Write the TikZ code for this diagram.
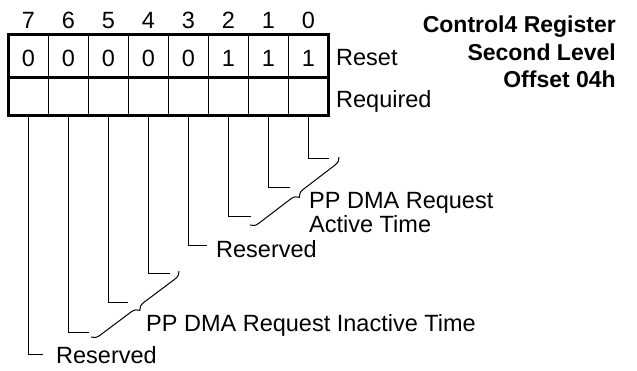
\documentclass[tikz,border=0pt]{standalone}
\usepackage{fontspec}
\setmainfont{Liberation Sans}
\usetikzlibrary{decorations.pathreplacing}
\begin{document}
\begin{tikzpicture}[x=1pt,y=-1pt,
  txt/.style={inner sep=0pt, font=\fontsize{23.5}{28}\selectfont},
  ttl/.style={inner sep=0pt, anchor=base east, font=\fontsize{23}{27.6}\selectfont\bfseries},
  lead/.style={line width=1pt},
  thin/.style={line width=1pt},
  thick/.style={line width=3pt},
  brc/.style={line width=1pt, decorate, decoration={brace, amplitude=8pt}}]
\useasboundingbox (0,0) rectangle (637,371);
% register grid
\foreach \k in {1,...,7} { \draw[thin] ({8.5+40*\k},34.5) -- ({8.5+40*\k},116); }
\draw[thick] (8.5,78) -- (328.5,78);
\draw[thick] (8.5,34.5) rectangle (328.5,116);
% bit numbers, values, leader start points
\foreach \v [count=\i from 0] in {0,0,0,0,0,1,1,1} {
  \pgfmathtruncatemacro\b{7-\i}
  \node[txt, anchor=base] (n\b) at ({28.5+40*\i},29) {\b};
  \node[txt, anchor=base] (v\b) at ({28.5+40*\i},67) {\v};
  \coordinate (c\b) at ({28.5+40*\i},117.5);
}
\node[txt, anchor=base west] (reset) at (336,66) {Reset};
\node[txt, anchor=base west] (req) at (336,108) {Required};
% title
\node[ttl] (t1) at (616,33) {Control4 Register};
\node[ttl] (t2) at (616,61) {Second Level};
\node[ttl] (t3) at (616,88) {Offset 04h};
% leader ends
\coordinate (e0) at (329,159);
\coordinate (e1) at (290,188);
\coordinate (e2) at (251,217);
\coordinate (e3) at (207,246);
\coordinate (e4) at (170,274);
\coordinate (e5) at (128,303);
\coordinate (e6) at (89,332);
\coordinate (e7) at (43,354);
\foreach \b in {0,...,7} { \draw[lead] (c\b) |- (e\b); }
% braces
\coordinate (ba1) at (339,157);
\coordinate (bb1) at (250,225);
\coordinate (ba2) at (179,271);
\coordinate (bb2) at (91,337);
\draw[brc] (ba1) -- (bb1);
\draw[brc] (ba2) -- (bb2);
% labels
\node[txt, anchor=base west] (l1a) at (309,209) {PP DMA Request};
\node[txt, anchor=base west] (l1b) at (309,233) {Active Time};
\node[txt, anchor=base west] (l3) at (216,258) {Reserved};
\node[txt, anchor=base west] (l2) at (146,331) {PP DMA Request Inactive Time};
\node[txt, anchor=base west] (l7) at (56,363) {Reserved};
\end{tikzpicture}
\end{document}
